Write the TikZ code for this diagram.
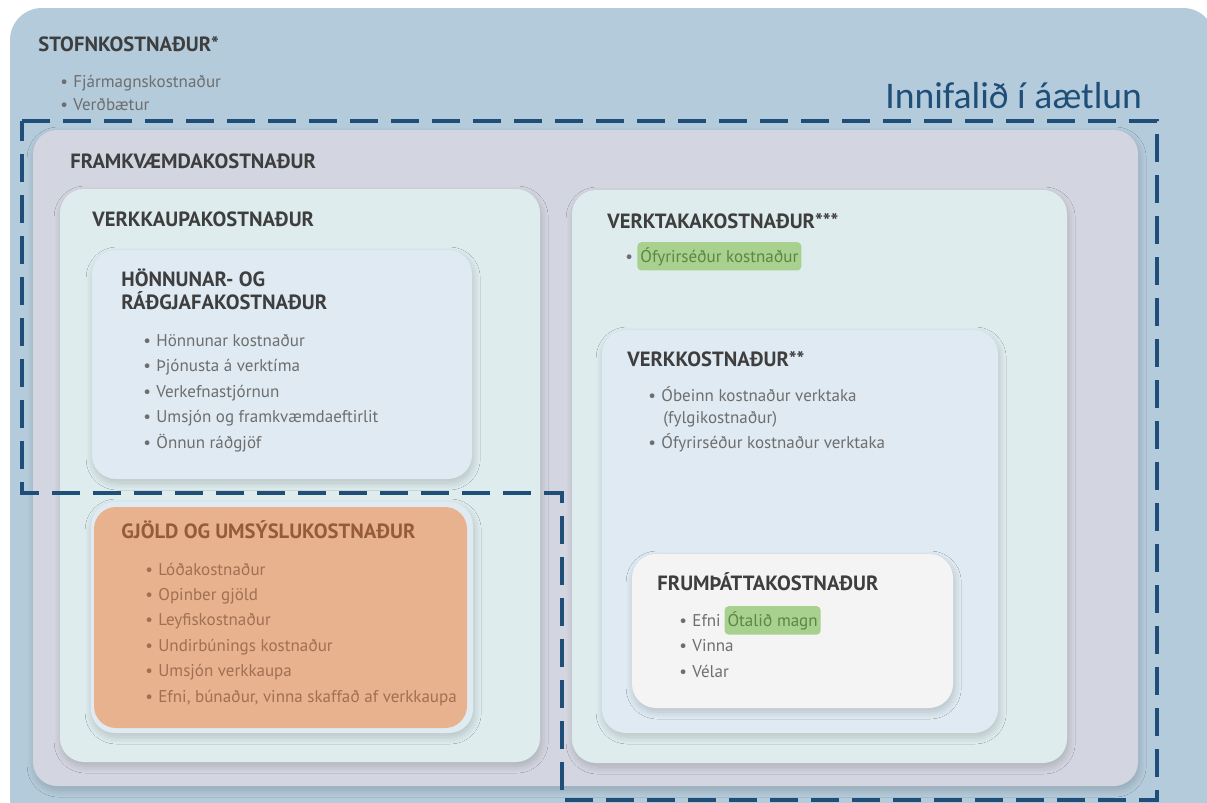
\documentclass[tikz,border=0pt]{standalone}
\usepackage{fontspec}
\setmainfont{PT Sans}
\newfontfamily\calibri{Carlito}
\usetikzlibrary{positioning,shadows.blur}

\definecolor{outerblue}{RGB}{180,203,219}
\definecolor{lavgray}{RGB}{211,214,224}
\definecolor{mint}{RGB}{222,236,237}
\definecolor{paleblue}{RGB}{223,234,242}
\definecolor{offwhite}{RGB}{244,244,244}
\definecolor{peach}{RGB}{232,178,142}
\definecolor{leaf}{RGB}{168,208,142}
\definecolor{leaftext}{RGB}{90,135,65}
\definecolor{navy}{RGB}{31,78,121}
\definecolor{headgray}{RGB}{62,62,62}
\definecolor{itemgray}{RGB}{110,110,110}
\definecolor{rust}{RGB}{150,92,58}
\definecolor{rustlight}{RGB}{160,112,82}

\newcommand{\dotitem}[1]{\makebox[6.5pt][l]{\textbullet}#1}

\tikzset{
  panel/.style={fill=#1, rounded corners=12pt,
    blur shadow={shadow xshift=0.6pt, shadow yshift=-2pt, shadow blur radius=3.5pt, shadow blur steps=10, shadow opacity=18}},
  heading/.style={anchor=base west, inner sep=0pt, font=\fontsize{10.3}{12}\selectfont\bfseries, text=headgray},
  item/.style={anchor=base west, inner sep=0pt, font=\fontsize{8.5}{10}\selectfont, text=itemgray},
  highlight/.style={fill=leaf, rounded corners=2pt, text=leaftext, inner xsep=1.5pt, inner ysep=2.5pt,
    font=\fontsize{8.5}{10}\selectfont},
  scopeline/.style={draw=navy, line width=1.6pt, dash pattern=on 14pt off 6.5pt}
}

\begin{document}
\begin{tikzpicture}[x=0.5pt, y=-0.5pt]
  \fill[white] (0,0) rectangle (1207,803);
  \clip (0,0) rectangle (1207,803);

  % nested panels
  \path[fill=outerblue, rounded corners=16pt] (10,8) rectangle (1215,830);
  \path[panel=lavgray] (33,130) rectangle (1138,786);
  \path[panel=mint] (60,189) rectangle (540,762);
  \path[panel=paleblue] (92,250) rectangle (472,479);
  \path[panel=paleblue] (91,502) rectangle (473,733);
  \path[fill=peach, rounded corners=11pt] (94,507) rectangle (467,728);
  \path[panel=mint] (572,190) rectangle (1067,763);
  \path[panel=paleblue] (602,330) rectangle (998,733);
  \path[panel=offwhite] (632,554) rectangle (953,708);

  % stofnkostnadur
  \node[heading] (stofn) at (38,52) {STOFNKOSTNAÐUR*};
  \foreach \txt [count=\i from 0] in {Fjármagnskostnaður, Verðbætur}
    \node[item] (stofn\i) at (60,{87+23*\i}) {\dotitem{\txt}};

  \node[heading] (framkv) at (70,168) {FRAMKVÆMDAKOSTNAÐUR};

  % verkkaupi
  \node[heading] (verkkaupi) at (92,226) {VERKKAUPAKOSTNAÐUR};
  \node[heading] (honnun) at (121,286) {HÖNNUNAR- OG};
  \node[heading] (radgjof) at (121,309) {RÁÐGJAFAKOSTNAÐUR};
  \foreach \txt [count=\i from 0] in {Hönnunar kostnaður, Þjónusta á verktíma, Verkefnastjórnun,
      Umsjón og framkvæmdaeftirlit, Önnun ráðgjöf}
    \node[item] (honnun\i) at (143,{346+25.5*\i}) {\dotitem{\txt}};

  \node[heading, text=rust] (gjold) at (121,538) {GJÖLD OG UMSÝSLUKOSTNAÐUR};
  \foreach \txt [count=\i from 0] in {Lóðakostnaður, Opinber gjöld, Leyfiskostnaður,
      Undirbúnings kostnaður, Umsjón verkkaupa, {Efni, búnaður, vinna skaffað af verkkaupa}}
    \node[item, text=rustlight] (gjold\i) at (145,{575+25.4*\i}) {\dotitem{\txt}};

  % verktaki
  \node[heading] (verktaki) at (607,228) {VERKTAKAKOSTNAÐUR***};
  \node[item] (verktaki0) at (625,262) {\textbullet};
  \node[highlight, anchor=base west] (ofyrir) at (637,262) {Ófyrirséður kostnaður};

  \node[heading] (verkk) at (627,366) {VERKKOSTNAÐUR**};
  \node[item] (verkk0) at (648,401) {\dotitem{Óbeinn kostnaður verktaka}};
  \node[item] (verkk1) at (663,423) {(fylgikostnaður)};
  \node[item] (verkk2) at (648,448) {\dotitem{Ófyrirséður kostnaður verktaka}};

  \node[heading] (frump) at (657,590) {FRUMÞÁTTAKOSTNAÐUR};
  \foreach \txt [count=\i from 0] in {Efni, Vinna, Vélar}
    \node[item] (frump\i) at (679,{626+25.5*\i}) {\dotitem{\txt}};
  \node[highlight, right=1.5pt of frump0.base east, anchor=base west] (otalid) {Ótalið magn};

  % included in estimate
  \draw[scopeline] (22,121) -- (1157,121) -- (1157,800) -- (562,800) -- (562,493) -- (22,493) -- cycle;
  \node[anchor=base west, inner sep=0pt, font=\calibri\fontsize{18.8}{22}\selectfont, text=navy] (innifalid) at (885,108) {Innifalið í áætlun};
\end{tikzpicture}
\end{document}
